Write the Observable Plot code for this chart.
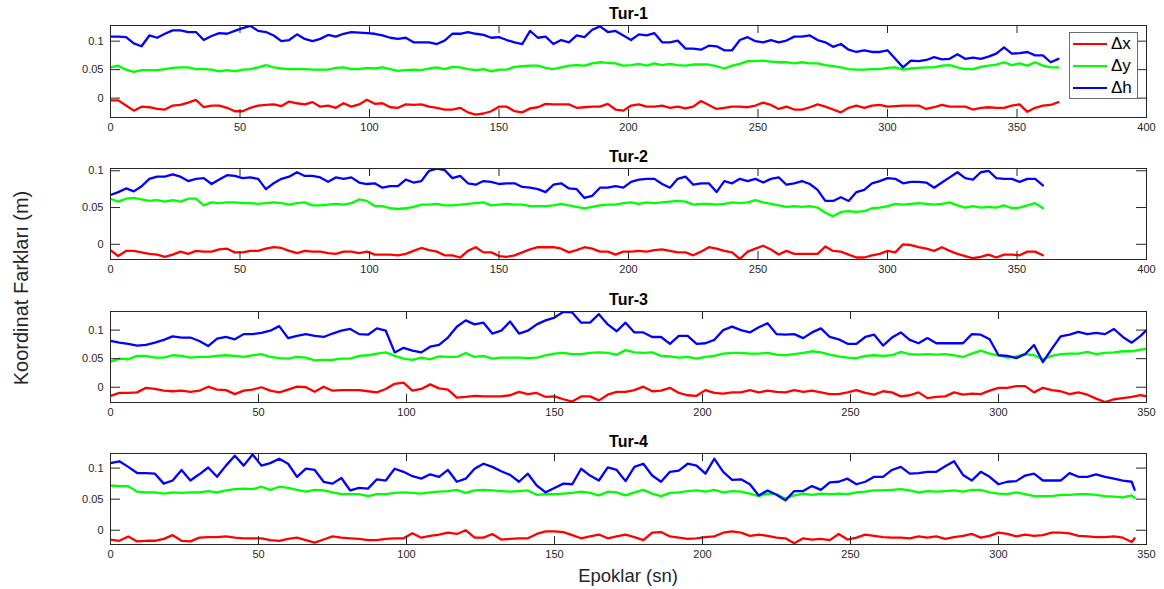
<!DOCTYPE html>
<html>
<head>
<meta charset="utf-8">
<script src="https://cdn.jsdelivr.net/npm/d3@7"></script>
<script src="https://cdn.jsdelivr.net/npm/@observablehq/plot@0.6"></script>
<style>
  html, body { margin: 0; padding: 0; background: #fff; }
  #wrap { position: relative; width: 1164px; height: 589px; overflow: hidden;
          font-family: "Liberation Sans", Arial, Helvetica, sans-serif; color: #262626; }
  .pnl { position: absolute; left: 0; }
  .pnl svg { display: block; }
  #ylab { position: absolute; left: 21px; top: 288px; transform: translate(-50%, -50%) rotate(-90deg);
          font-size: 20px; white-space: nowrap; color: #262626; }
  #xlab { position: absolute; left: 628px; top: 576px; transform: translate(-50%, -50%);
          font-size: 18.5px; white-space: nowrap; color: #262626; }
  #legend { position: absolute; left: 1069px; top: 32px; width: 69px; height: 67px; box-sizing: border-box;
            border: 1px solid #6b6b6b; background: #fff; }
  .lrow { height: 22px; display: flex; align-items: center; }
  .sw { width: 34px; height: 2.5px; margin-left: 3px; }
  .lt { margin-left: 4px; font-size: 17px; color: #000; }
</style>
</head>
<body>
<div id="wrap">
  <div id="ylab">Koordinat Farkları (m)</div>
  <div id="xlab">Epoklar (sn)</div>
</div>
<script>
// ---------- data ----------
const seriesNames = ["Δx", "Δy", "Δh"];
const seriesColors = ["#ff0000", "#00ff00", "#0000ff"];
const titles = ["Tur-1", "Tur-2", "Tur-3", "Tur-4"];
const yTicks = [0, 0.05, 0.1];
const xTicks400 = [0, 50, 100, 150, 200, 250, 300, 350, 400];
const xTicks350 = [0, 50, 100, 150, 200, 250, 300, 350];

// sampling epochs (every 3 s, last sample at line end)
const epochs1 = d3.range(0, 367, 3);
const epochs2 = d3.range(0, 361, 3);
const epochs3 = [...d3.range(0, 349, 3), 350];
const epochs4 = [...d3.range(0, 346, 3), 346];

// Tur-1
const tur1_dx = [-0.004,-0.004,-0.013,-0.022,-0.015,-0.016,-0.019,-0.020,-0.013,-0.012,-0.008,-0.003,-0.016,-0.013,-0.013,-0.017,-0.023,-0.023,-0.017,-0.013,-0.012,-0.011,-0.014,-0.006,-0.009,-0.011,-0.007,-0.015,-0.013,-0.017,-0.009,-0.015,-0.011,-0.003,-0.010,-0.009,-0.016,-0.017,-0.011,-0.012,-0.011,-0.015,-0.017,-0.020,-0.020,-0.017,-0.025,-0.029,
  -0.027,-0.023,-0.015,-0.015,-0.023,-0.025,-0.018,-0.016,-0.010,-0.011,-0.011,-0.011,-0.017,-0.016,-0.015,-0.015,-0.010,-0.020,-0.022,-0.013,-0.011,-0.015,-0.015,-0.013,-0.017,-0.015,-0.018,-0.015,-0.005,-0.012,-0.019,-0.017,-0.015,-0.015,-0.016,-0.013,-0.008,-0.012,-0.019,-0.015,-0.020,-0.020,-0.016,-0.011,-0.015,-0.020,-0.025,-0.017,-0.013,
  -0.017,-0.013,-0.012,-0.015,-0.014,-0.013,-0.013,-0.013,-0.019,-0.016,-0.012,-0.015,-0.015,-0.015,-0.020,-0.017,-0.016,-0.017,-0.017,-0.013,-0.011,-0.024,-0.017,-0.013,-0.012,-0.007];
const tur1_dy = [0.054,0.057,0.050,0.046,0.049,0.049,0.049,0.051,0.053,0.054,0.054,0.051,0.051,0.050,0.047,0.049,0.047,0.050,0.051,0.054,0.058,0.054,0.052,0.051,0.051,0.051,0.050,0.050,0.050,0.053,0.054,0.051,0.051,0.053,0.052,0.054,0.051,0.048,0.049,0.050,0.049,0.052,0.054,0.051,0.055,0.054,0.051,0.049,
  0.051,0.047,0.050,0.050,0.055,0.056,0.057,0.057,0.053,0.051,0.054,0.057,0.058,0.057,0.061,0.063,0.062,0.061,0.057,0.058,0.060,0.057,0.061,0.058,0.060,0.058,0.057,0.059,0.059,0.059,0.056,0.052,0.057,0.060,0.065,0.065,0.066,0.064,0.063,0.063,0.061,0.063,0.061,0.061,0.058,0.056,0.054,0.051,0.050,
  0.050,0.051,0.051,0.053,0.054,0.050,0.052,0.053,0.054,0.054,0.057,0.058,0.054,0.051,0.051,0.055,0.057,0.059,0.063,0.058,0.061,0.057,0.063,0.057,0.054,0.054];
const tur1_dh = [0.108,0.108,0.107,0.096,0.091,0.110,0.106,0.113,0.119,0.119,0.116,0.116,0.102,0.109,0.114,0.113,0.118,0.123,0.127,0.118,0.116,0.110,0.100,0.102,0.112,0.104,0.100,0.104,0.111,0.108,0.113,0.116,0.115,0.114,0.113,0.110,0.106,0.104,0.106,0.098,0.098,0.098,0.095,0.101,0.113,0.113,0.116,0.113,
  0.111,0.106,0.107,0.102,0.098,0.095,0.118,0.106,0.108,0.095,0.102,0.098,0.110,0.107,0.120,0.126,0.116,0.118,0.110,0.102,0.112,0.110,0.114,0.098,0.098,0.101,0.087,0.087,0.085,0.092,0.091,0.084,0.084,0.102,0.107,0.100,0.098,0.102,0.098,0.101,0.108,0.108,0.110,0.102,0.098,0.090,0.095,0.085,0.081,
  0.084,0.081,0.081,0.084,0.069,0.054,0.066,0.065,0.067,0.072,0.068,0.069,0.077,0.069,0.071,0.069,0.073,0.078,0.089,0.078,0.079,0.081,0.075,0.075,0.063,0.069];

// Tur-2
const tur2_dx = [-0.008,-0.016,-0.009,-0.009,-0.011,-0.013,-0.014,-0.017,-0.014,-0.010,-0.013,-0.009,-0.010,-0.010,-0.007,-0.006,-0.011,-0.011,-0.009,-0.009,-0.006,-0.004,-0.005,-0.009,-0.012,-0.009,-0.010,-0.010,-0.012,-0.013,-0.010,-0.010,-0.012,-0.010,-0.014,-0.014,-0.014,-0.015,-0.013,-0.009,-0.005,-0.008,-0.010,-0.015,-0.015,-0.018,-0.009,-0.004,
  -0.011,-0.011,-0.016,-0.017,-0.015,-0.011,-0.007,-0.004,-0.004,-0.004,-0.006,-0.011,-0.008,-0.004,-0.006,-0.010,-0.010,-0.014,-0.010,-0.010,-0.009,-0.010,-0.008,-0.007,-0.009,-0.011,-0.011,-0.015,-0.010,-0.004,-0.006,-0.009,-0.011,-0.020,-0.010,-0.006,-0.002,-0.007,-0.014,-0.009,-0.013,-0.013,-0.013,-0.013,-0.003,-0.009,-0.010,-0.014,-0.018,
  -0.018,-0.015,-0.013,-0.009,-0.011,0.000,-0.001,-0.004,-0.006,-0.009,-0.004,-0.009,-0.013,-0.016,-0.019,-0.017,-0.014,-0.018,-0.014,-0.014,-0.015,-0.010,-0.010,-0.015];
const tur2_dy = [0.062,0.058,0.062,0.063,0.061,0.059,0.060,0.058,0.060,0.058,0.062,0.062,0.053,0.057,0.056,0.057,0.057,0.056,0.056,0.055,0.056,0.057,0.056,0.054,0.056,0.057,0.053,0.053,0.054,0.055,0.054,0.056,0.061,0.059,0.052,0.052,0.049,0.048,0.049,0.051,0.054,0.054,0.055,0.053,0.053,0.054,0.055,0.056,
  0.057,0.053,0.054,0.055,0.054,0.054,0.052,0.052,0.052,0.053,0.055,0.053,0.051,0.049,0.051,0.053,0.054,0.054,0.056,0.057,0.055,0.057,0.056,0.057,0.058,0.059,0.058,0.054,0.055,0.055,0.054,0.055,0.057,0.056,0.057,0.060,0.057,0.055,0.053,0.051,0.052,0.051,0.052,0.050,0.043,0.038,0.044,0.045,0.044,
  0.045,0.049,0.050,0.052,0.055,0.054,0.055,0.056,0.055,0.054,0.055,0.057,0.053,0.050,0.052,0.050,0.051,0.050,0.053,0.049,0.050,0.053,0.056,0.049];
const tur2_dh = [0.067,0.071,0.076,0.072,0.079,0.089,0.092,0.092,0.095,0.092,0.086,0.089,0.090,0.082,0.088,0.094,0.093,0.090,0.091,0.089,0.075,0.083,0.089,0.092,0.098,0.093,0.093,0.091,0.085,0.091,0.089,0.091,0.084,0.082,0.083,0.077,0.079,0.079,0.088,0.084,0.086,0.100,0.103,0.101,0.090,0.093,0.083,0.081,
  0.086,0.085,0.082,0.083,0.083,0.078,0.077,0.075,0.071,0.081,0.083,0.076,0.075,0.063,0.066,0.077,0.077,0.079,0.077,0.085,0.088,0.089,0.089,0.082,0.077,0.089,0.092,0.081,0.083,0.083,0.071,0.086,0.083,0.089,0.086,0.089,0.084,0.089,0.091,0.081,0.083,0.086,0.082,0.074,0.059,0.059,0.064,0.059,0.071,
  0.074,0.083,0.086,0.090,0.089,0.083,0.085,0.085,0.084,0.077,0.084,0.091,0.098,0.090,0.088,0.098,0.100,0.090,0.089,0.089,0.085,0.089,0.089,0.080];

// Tur-3
const tur3_dx = [-0.015,-0.010,-0.010,-0.009,-0.001,-0.003,-0.006,-0.007,-0.006,-0.008,-0.006,0.001,-0.004,-0.005,-0.012,-0.006,-0.004,0.000,-0.006,-0.009,-0.004,0.001,0.000,-0.008,0.001,-0.006,-0.005,-0.005,-0.005,-0.007,-0.009,-0.003,0.006,0.008,-0.006,-0.003,0.005,-0.002,-0.004,-0.018,-0.017,-0.015,
  -0.016,-0.016,-0.016,-0.014,-0.008,-0.012,-0.010,-0.017,-0.016,-0.021,-0.025,-0.016,-0.016,-0.023,-0.013,-0.008,-0.008,-0.005,0.001,-0.007,-0.006,-0.001,-0.010,-0.014,-0.015,-0.005,-0.010,-0.011,-0.009,-0.009,-0.005,-0.009,-0.006,-0.008,-0.009,-0.005,-0.008,-0.006,-0.009,-0.012,-0.012,-0.009,-0.005,
  -0.010,-0.013,-0.007,-0.009,-0.016,-0.014,-0.009,-0.019,-0.017,-0.016,-0.009,-0.013,-0.011,-0.012,-0.006,-0.001,-0.001,0.002,0.002,-0.009,-0.001,-0.005,-0.007,-0.012,-0.009,-0.013,-0.020,-0.026,-0.021,-0.019,-0.017,-0.014,-0.016];
const tur3_dy = [0.045,0.050,0.049,0.055,0.055,0.052,0.052,0.056,0.055,0.052,0.053,0.053,0.055,0.056,0.055,0.053,0.056,0.058,0.053,0.051,0.050,0.053,0.052,0.047,0.048,0.048,0.050,0.050,0.055,0.056,0.059,0.061,0.055,0.050,0.048,0.052,0.049,0.054,0.053,0.053,0.060,0.053,
  0.055,0.050,0.052,0.052,0.052,0.051,0.052,0.056,0.059,0.060,0.058,0.058,0.060,0.061,0.060,0.057,0.065,0.061,0.060,0.061,0.055,0.054,0.052,0.053,0.050,0.053,0.055,0.059,0.060,0.060,0.059,0.059,0.060,0.057,0.056,0.058,0.060,0.063,0.061,0.057,0.054,0.052,0.051,
  0.055,0.056,0.055,0.056,0.062,0.058,0.057,0.058,0.057,0.058,0.056,0.053,0.059,0.064,0.059,0.056,0.052,0.054,0.058,0.056,0.049,0.055,0.058,0.059,0.059,0.062,0.058,0.060,0.061,0.063,0.063,0.066,0.067];
const tur3_dh = [0.081,0.078,0.076,0.073,0.074,0.078,0.083,0.089,0.087,0.087,0.081,0.072,0.085,0.088,0.084,0.093,0.093,0.095,0.099,0.107,0.086,0.090,0.093,0.090,0.088,0.094,0.099,0.102,0.093,0.092,0.103,0.099,0.061,0.069,0.064,0.061,0.071,0.074,0.087,0.106,0.117,0.110,
  0.113,0.094,0.099,0.115,0.094,0.099,0.110,0.117,0.122,0.132,0.131,0.113,0.113,0.128,0.110,0.098,0.113,0.096,0.096,0.088,0.088,0.076,0.090,0.090,0.076,0.077,0.083,0.100,0.106,0.100,0.096,0.105,0.112,0.093,0.092,0.093,0.086,0.096,0.103,0.088,0.084,0.076,0.076,
  0.088,0.092,0.073,0.087,0.096,0.083,0.077,0.086,0.077,0.077,0.077,0.077,0.093,0.092,0.084,0.056,0.055,0.051,0.058,0.074,0.044,0.067,0.089,0.092,0.097,0.093,0.095,0.093,0.102,0.088,0.078,0.090,0.100];

// Tur-4
const tur4_dx = [-0.015,-0.017,-0.010,-0.018,-0.017,-0.017,-0.014,-0.008,-0.017,-0.018,-0.012,-0.011,-0.011,-0.010,-0.012,-0.013,-0.013,-0.013,-0.016,-0.017,-0.014,-0.012,-0.016,-0.020,-0.015,-0.010,-0.012,-0.013,-0.014,-0.016,-0.016,-0.014,-0.013,-0.013,-0.005,-0.012,-0.009,-0.007,-0.004,-0.006,0.000,-0.012,
  -0.012,-0.006,-0.015,-0.014,-0.013,-0.013,-0.006,-0.002,-0.002,-0.003,-0.008,-0.013,-0.010,-0.007,-0.013,-0.010,-0.007,-0.011,-0.016,-0.004,-0.003,-0.010,-0.012,-0.014,-0.013,-0.011,-0.010,-0.004,-0.002,-0.004,-0.009,-0.007,-0.009,-0.012,-0.013,-0.021,-0.013,-0.015,-0.014,-0.016,-0.006,-0.015,-0.012,
  -0.007,-0.009,-0.011,-0.012,-0.012,-0.013,-0.010,-0.012,-0.010,-0.014,-0.011,-0.009,-0.006,-0.012,-0.009,-0.004,-0.006,-0.010,-0.007,-0.009,-0.008,-0.004,-0.004,-0.005,-0.009,-0.010,-0.011,-0.011,-0.010,-0.012,-0.019,-0.013];
const tur4_dy = [0.072,0.071,0.071,0.062,0.061,0.061,0.059,0.061,0.060,0.061,0.061,0.063,0.061,0.064,0.066,0.067,0.066,0.070,0.065,0.070,0.068,0.065,0.062,0.065,0.064,0.061,0.058,0.058,0.058,0.055,0.058,0.058,0.060,0.061,0.060,0.059,0.061,0.062,0.063,0.065,0.060,0.064,
  0.065,0.064,0.063,0.062,0.063,0.064,0.057,0.058,0.058,0.059,0.060,0.062,0.060,0.056,0.062,0.061,0.056,0.061,0.065,0.059,0.055,0.060,0.061,0.063,0.064,0.062,0.065,0.061,0.063,0.062,0.059,0.055,0.059,0.058,0.051,0.056,0.059,0.057,0.059,0.058,0.059,0.058,0.061,
  0.062,0.064,0.064,0.065,0.066,0.064,0.061,0.063,0.062,0.063,0.064,0.062,0.065,0.065,0.061,0.059,0.058,0.061,0.058,0.055,0.055,0.055,0.057,0.057,0.058,0.058,0.057,0.055,0.054,0.053,0.056,0.052];
const tur4_dh = [0.108,0.111,0.102,0.092,0.092,0.091,0.075,0.080,0.097,0.080,0.090,0.101,0.086,0.104,0.120,0.104,0.122,0.104,0.108,0.115,0.107,0.086,0.099,0.097,0.078,0.075,0.084,0.064,0.068,0.067,0.082,0.080,0.099,0.094,0.087,0.083,0.090,0.086,0.097,0.078,0.083,0.099,
  0.107,0.102,0.095,0.089,0.078,0.091,0.072,0.061,0.068,0.075,0.074,0.099,0.088,0.080,0.101,0.097,0.079,0.102,0.107,0.088,0.078,0.094,0.096,0.107,0.104,0.091,0.115,0.094,0.081,0.082,0.074,0.056,0.064,0.057,0.048,0.063,0.063,0.071,0.065,0.077,0.078,0.083,0.074,
  0.078,0.086,0.086,0.097,0.102,0.091,0.092,0.094,0.094,0.103,0.111,0.089,0.080,0.094,0.086,0.074,0.078,0.079,0.088,0.091,0.080,0.080,0.080,0.092,0.086,0.086,0.090,0.086,0.083,0.080,0.078,0.065];

// ---------- drawing ----------
const FONT = '"Liberation Sans", Arial, Helvetica, sans-serif';
const AX = "#262626";
const PW = 1036;   // plot-area width

const panels = [
  {title: titles[0], epochs: epochs1, dx: tur1_dx, dy: tur1_dy, dh: tur1_dh, xMax: 400, xTicks: xTicks400, yDomain: [-0.034, 0.1275], top: 0,   plotH: 92},
  {title: titles[1], epochs: epochs2, dx: tur2_dx, dy: tur2_dy, dh: tur2_dh, xMax: 400, xTicks: xTicks400, yDomain: [-0.0207, 0.1031], top: 143, plotH: 91},
  {title: titles[2], epochs: epochs3, dx: tur3_dx, dy: tur3_dy, dh: tur3_dh, xMax: 350, xTicks: xTicks350, yDomain: [-0.0267, 0.1326], top: 286, plotH: 91},
  {title: titles[3], epochs: epochs4, dx: tur4_dx, dy: tur4_dy, dh: tur4_dh, xMax: 350, xTicks: xTicks350, yDomain: [-0.023, 0.1235], top: 428, plotH: 91}
];

const wrap = document.getElementById("wrap");

panels.forEach((p, k) => {
  const rows = [];
  [p.dx, p.dy, p.dh].forEach((vals, s) => {
    vals.forEach((v, i) => rows.push({epoch: p.epochs[i], value: v, series: seriesNames[s]}));
  });
  const chart = Plot.plot({
    width: 1164,
    height: 25 + p.plotH + 25,
    marginLeft: 110, marginRight: 18, marginTop: 25, marginBottom: 25,
    style: {fontFamily: FONT, fontSize: "11px", color: AX, background: "transparent", overflow: "visible"},
    x: {domain: [0, p.xMax]},
    y: {domain: p.yDomain},
    color: {domain: seriesNames, range: seriesColors},
    marks: [
      Plot.lineY(rows, {x: "epoch", y: "value", z: "series", stroke: "series", strokeWidth: 2.3, clip: true}),
      Plot.ruleX(p.xTicks, {insetBottom: p.plotH - 8, stroke: AX}),
      Plot.ruleX(p.xTicks, {insetTop: p.plotH - 8, stroke: AX}),
      Plot.ruleY(yTicks, {insetRight: PW - 10, stroke: AX}),
      Plot.ruleY(yTicks, {insetLeft: PW - 10, stroke: AX}),
      Plot.frame({stroke: AX}),
      Plot.axisX({ticks: p.xTicks, tickSize: 0, tickPadding: 6, tickFormat: d => String(d), label: null, fill: AX}),
      Plot.axisY({ticks: yTicks, tickSize: 0, tickPadding: 7, tickFormat: d => String(d), label: null, fill: AX}),
      Plot.text([p.title], {frameAnchor: "top", lineAnchor: "middle", dy: -12, fontWeight: "bold", fontSize: 16, fill: "#000"})
    ]
  });
  const div = document.createElement("div");
  div.className = "pnl";
  div.style.top = p.top + "px";
  div.appendChild(chart);
  wrap.appendChild(div);
});

// legend (panel Tur-1)
const legend = document.createElement("div");
legend.id = "legend";
seriesNames.forEach((name, i) => {
  const row = document.createElement("div");
  row.className = "lrow";
  const sw = document.createElement("div");
  sw.className = "sw";
  sw.style.background = seriesColors[i];
  const t = document.createElement("span");
  t.className = "lt";
  t.textContent = name;
  row.appendChild(sw);
  row.appendChild(t);
  legend.appendChild(row);
});
wrap.appendChild(legend);
</script>
</body>
</html>
